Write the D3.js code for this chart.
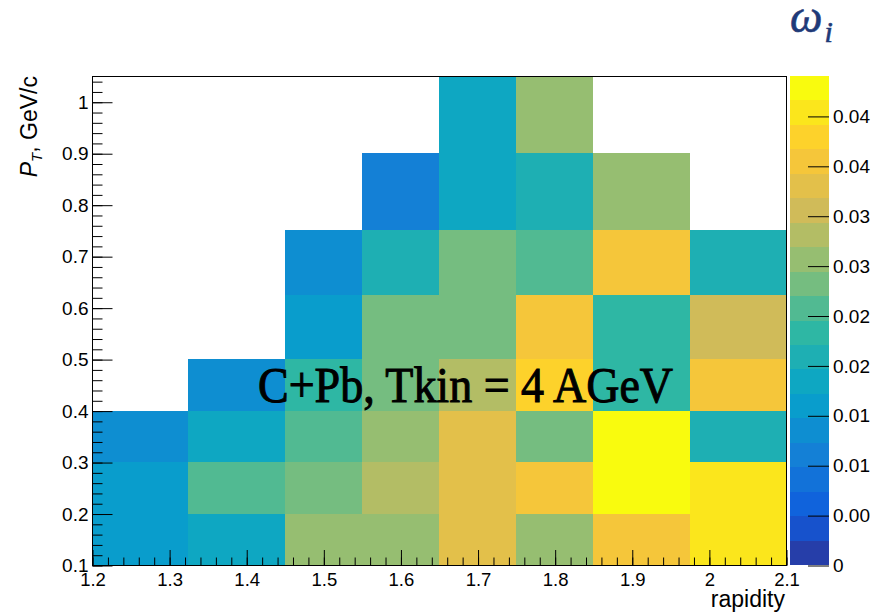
<!DOCTYPE html>
<html>
<head>
<meta charset="utf-8">
<script src="https://cdn.jsdelivr.net/npm/d3@7"></script>
<style>
  html, body { margin: 0; padding: 0; background: #fff; }
  svg { display: block; }
</style>
</head>
<body>
<svg id="chart" width="887" height="616"></svg>
<script>
// Bin edges of the 2D histogram
const rapidityEdges = [1.2, 1.325, 1.45, 1.55, 1.65, 1.75, 1.85, 1.975, 2.1];
const ptEdges = [0.1, 0.2, 0.3, 0.4, 0.5, 0.625, 0.75, 0.9, 1.05];

// ω_i per rapidity bin, one array per P_T bin (null = empty bin)
const omegaPt0 = [0.0161, 0.0186, 0.0303, 0.0309, 0.0378, 0.0305, 0.0401, 0.0455]; // 0.1–0.2
const omegaPt1 = [0.0158, 0.0256, 0.0283, 0.0330, 0.0381, 0.0406, 0.0478, 0.0452]; // 0.2–0.3
const omegaPt2 = [0.0136, 0.0183, 0.0258, 0.0307, 0.0379, 0.0281, 0.0490, 0.0209]; // 0.3–0.4
const omegaPt3 = [null, 0.0134, 0.0232, 0.0280, 0.0332, 0.0428, 0.0234, 0.0403];   // 0.4–0.5
const omegaPt4 = [null, null, 0.0160, 0.0282, 0.0284, 0.0405, 0.0231, 0.0356];     // 0.5–0.625
const omegaPt5 = [null, null, 0.0135, 0.0207, 0.0283, 0.0257, 0.0404, 0.0208];     // 0.625–0.75
const omegaPt6 = [null, null, null, 0.0111, 0.0185, 0.0209, 0.0307, null];         // 0.75–0.9
const omegaPt7 = [null, null, null, null, 0.0183, 0.0308, null, null];             // 0.9–1.05
const omegaRows = [omegaPt0, omegaPt1, omegaPt2, omegaPt3, omegaPt4, omegaPt5, omegaPt6, omegaPt7];

// Axis ticks and labels
const xTicks = [1.2, 1.3, 1.4, 1.5, 1.6, 1.7, 1.8, 1.9, 2.0, 2.1];
const xTickLabels = ["1.2", "1.3", "1.4", "1.5", "1.6", "1.7", "1.8", "1.9", "2", "2.1"];
const yTicks = [0.1, 0.2, 0.3, 0.4, 0.5, 0.6, 0.7, 0.8, 0.9, 1.0];
const yTickLabels = ["0.1", "0.2", "0.3", "0.4", "0.5", "0.6", "0.7", "0.8", "0.9", "1"];
const zTicks = [0, 0.005, 0.01, 0.015, 0.02, 0.025, 0.03, 0.035, 0.04, 0.045];
const zTickLabels = ["0", "0.00", "0.01", "0.01", "0.02", "0.02", "0.03", "0.03", "0.04", "0.04"];
const nLevels = 20;

// "Bird" palette stops
const birdStops = [0, 0.125, 0.25, 0.375, 0.5, 0.625, 0.75, 0.875, 1];
const birdR = [0.2082, 0.0592, 0.0780, 0.0232, 0.1802, 0.5301, 0.8186, 0.9956, 0.9764];
const birdG = [0.1664, 0.3599, 0.5041, 0.6419, 0.7178, 0.7492, 0.7328, 0.7862, 0.9832];
const birdB = [0.5293, 0.8684, 0.8385, 0.7914, 0.6425, 0.4662, 0.3499, 0.1968, 0.0539];

const bird = d3.scaleLinear()
  .domain(birdStops)
  .range(birdStops.map((s, i) => d3.rgb(birdR[i] * 255, birdG[i] * 255, birdB[i] * 255)))
  .interpolate(d3.interpolateRgb)
  .clamp(true);

const frame = { left: 92, right: 786, top: 76, bottom: 565 };
const bar = { left: 790, right: 829 };
const font = "'Liberation Sans', Arial, Helvetica, sans-serif";
const serif = "'Liberation Serif', 'DejaVu Serif', serif";

const svg = d3.select("#chart");

const x = d3.scaleLinear().domain([rapidityEdges[0], rapidityEdges[rapidityEdges.length - 1]])
  .range([frame.left, frame.right]);
const y = d3.scaleLinear().domain([ptEdges[0], ptEdges[ptEdges.length - 1]])
  .range([frame.bottom, frame.top]);

const zMax = d3.max(omegaRows.flat().filter(v => v != null));
const z = d3.scaleLinear().domain([0, zMax]).range([frame.bottom, frame.top]);

function levelOf(v) {
  return Math.min(nLevels - 1, Math.max(0, Math.floor(v / zMax * nLevels)));
}
function levelColor(k) {
  return bird((k + 0.99) / nLevels);
}

// Cells
const cells = [];
omegaRows.forEach((row, j) => {
  row.forEach((v, i) => {
    if (v != null) cells.push({ i, j, v });
  });
});

svg.append("g")
  .attr("shape-rendering", "crispEdges")
  .selectAll("rect")
  .data(cells)
  .join("rect")
  .attr("x", d => x(rapidityEdges[d.i]))
  .attr("y", d => y(ptEdges[d.j + 1]))
  .attr("width", d => x(rapidityEdges[d.i + 1]) - x(rapidityEdges[d.i]))
  .attr("height", d => y(ptEdges[d.j]) - y(ptEdges[d.j + 1]))
  .attr("fill", d => levelColor(levelOf(d.v)));

// Frame
svg.append("rect")
  .attr("x", frame.left + 0.5).attr("y", frame.top + 0.5)
  .attr("width", frame.right - frame.left).attr("height", frame.bottom - frame.top)
  .attr("fill", "none").attr("stroke", "#000").attr("stroke-width", 1);

// X axis (ticks inside the frame)
const xMinor = d3.range(0, 46).map(k => 1.2 + k * 0.02).filter(v => v <= 2.1001);
const xAxisMinor = d3.axisBottom(x).tickValues(xMinor).tickSizeInner(-8).tickSizeOuter(0).tickFormat(() => "");
const xAxisMajor = d3.axisBottom(x).tickValues(xTicks).tickSizeInner(-15.5).tickSizeOuter(0).tickPadding(7)
  .tickFormat((d, i) => xTickLabels[i]);

const gxm = svg.append("g").attr("transform", `translate(0.5,${frame.bottom + 0.5})`).call(xAxisMinor);
const gx = svg.append("g").attr("transform", `translate(0.5,${frame.bottom + 0.5})`).call(xAxisMajor);
[gxm, gx].forEach(g => {
  g.select(".domain").remove();
  g.selectAll(".tick line").attr("stroke", "#000");
});
gx.selectAll(".tick text").attr("font-family", font).attr("font-size", 18.5).attr("fill", "#000");

// Y axis (ticks inside the frame)
const yMinor = d3.range(0, 48).map(k => 0.1 + k * 0.02).filter(v => v <= 1.0501);
const yAxisMinor = d3.axisLeft(y).tickValues(yMinor).tickSizeInner(-10).tickSizeOuter(0).tickFormat(() => "");
const yAxisMajor = d3.axisLeft(y).tickValues(yTicks).tickSizeInner(-20).tickSizeOuter(0).tickPadding(4)
  .tickFormat((d, i) => yTickLabels[i]);

const gym = svg.append("g").attr("transform", `translate(${frame.left + 0.5},0.5)`).call(yAxisMinor);
const gy = svg.append("g").attr("transform", `translate(${frame.left + 0.5},0.5)`).call(yAxisMajor);
[gym, gy].forEach(g => {
  g.select(".domain").remove();
  g.selectAll(".tick line").attr("stroke", "#000");
});
gy.selectAll(".tick text").attr("font-family", font).attr("font-size", 19).attr("fill", "#000");

// Colour bar
const levels = d3.range(nLevels);
svg.append("g")
  .attr("shape-rendering", "crispEdges")
  .selectAll("rect")
  .data(levels)
  .join("rect")
  .attr("x", bar.left)
  .attr("y", k => z((k + 1) * zMax / nLevels))
  .attr("width", bar.right - bar.left)
  .attr("height", k => z(k * zMax / nLevels) - z((k + 1) * zMax / nLevels))
  .attr("fill", k => levelColor(k));

const zAxis = d3.axisRight(z).tickValues(zTicks).tickSizeInner(-21).tickSizeOuter(0).tickPadding(4)
  .tickFormat((d, i) => zTickLabels[i]);
const gz = svg.append("g").attr("transform", `translate(${bar.right},0.5)`).call(zAxis);
gz.select(".domain").remove();
gz.selectAll(".tick line").attr("stroke", "#000");
gz.selectAll(".tick text").attr("font-family", font).attr("font-size", 19).attr("fill", "#000");

// Axis titles
svg.append("text")
  .attr("x", 785).attr("y", 607)
  .attr("text-anchor", "end")
  .attr("font-family", font).attr("font-size", 23)
  .text("rapidity");

const yTitle = svg.append("text")
  .attr("transform", "translate(37,76) rotate(-90)")
  .attr("text-anchor", "end")
  .attr("font-family", font).attr("font-size", 23);
yTitle.append("tspan").attr("font-style", "italic").text("P");
yTitle.append("tspan").attr("font-style", "italic").attr("font-size", 15).attr("dy", 5).text("T");
yTitle.append("tspan").attr("dy", -5).text(", GeV/c");

// Colour-bar title ω_i
const zTitle = svg.append("text")
  .attr("x", 790).attr("y", 32)
  .attr("font-family", serif)
  .attr("font-style", "italic")
  .attr("font-size", 46)
  .attr("fill", "#1f3a78")
  .attr("stroke", "#1f3a78").attr("stroke-width", 0.6);
zTitle.append("tspan").text("ω");
zTitle.append("tspan").attr("font-size", 30).attr("dx", 2).attr("dy", 10).text("i");

// Collision label
svg.append("text")
  .attr("x", 258).attr("y", 402)
  .attr("font-family", serif)
  .attr("font-size", 50)
  .attr("textLength", 415)
  .attr("lengthAdjust", "spacingAndGlyphs")
  .attr("fill", "#000")
  .attr("stroke", "#000").attr("stroke-width", 1)
  .text("C+Pb, Tkin = 4 AGeV");
</script>
</body>
</html>
